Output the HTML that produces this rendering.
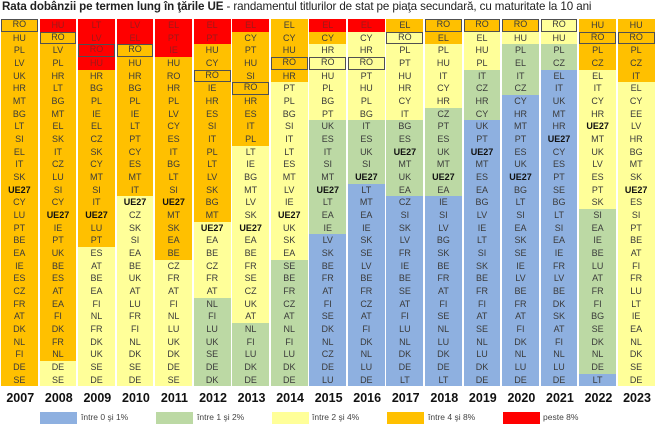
<!DOCTYPE html>
<html><head><meta charset="utf-8">
<style>
body{margin:0;width:656px;height:429px;background:#fff;position:relative;overflow:hidden;font-family:"Liberation Sans",sans-serif}
.t{position:absolute;left:2px;top:0;font-size:11.6px;color:#222;white-space:nowrap;letter-spacing:-0.1px}
.t b{font-weight:bold}
.g{position:absolute;left:1px;top:19px;display:flex}
.c{width:36.8px;margin-right:1.75px}
.c i{display:block;height:12.68px;line-height:12.68px;font-style:normal;text-align:center;font-size:9px;color:#3a3a3a;box-sizing:border-box}
.r{background:#ff0000;color:#9a1a1a!important}.o{background:#ffc000}.y{background:#ffff99}.g2{background:#bcd9a4}.b{background:#8eb0e0}
.x{border:1.5px solid #505050;line-height:9.7px!important}
.u{font-weight:bold;color:#111!important}
.yr{position:absolute;top:391px;left:1px;display:flex}
.yr span{width:38.55px;text-align:center;font-weight:bold;font-size:12.5px;color:#111}
.lg{position:absolute;top:412px;height:12px;width:37px}
.lt{position:absolute;top:412px;font-size:8.5px;color:#444}
</style></head><body>
<div class="t"><b>Rata dobânzii pe termen lung în ţările UE</b> - randamentul titlurilor de stat pe piaţa secundară, cu maturitate la 10 ani</div>
<div class="g">
<div class="c"><i class="o x">RO</i><i class="o">HU</i><i class="o">PL</i><i class="o">LV</i><i class="o">UK</i><i class="o">HR</i><i class="o">MT</i><i class="o">BG</i><i class="o">LT</i><i class="o">SI</i><i class="o">EL</i><i class="o">IT</i><i class="o">SK</i><i class="o u">UE27</i><i class="o">CY</i><i class="o">LU</i><i class="o">PT</i><i class="o">BE</i><i class="o">EA</i><i class="o">IE</i><i class="o">ES</i><i class="o">CZ</i><i class="o">FR</i><i class="o">AT</i><i class="o">DK</i><i class="o">NL</i><i class="o">FI</i><i class="o">DE</i><i class="o">SE</i></div>
<div class="c"><i class="r">HU</i><i class="o x">RO</i><i class="o">LV</i><i class="o">PL</i><i class="o">HR</i><i class="o">LT</i><i class="o">BG</i><i class="o">MT</i><i class="o">EL</i><i class="o">SK</i><i class="o">IT</i><i class="o">CZ</i><i class="o">LU</i><i class="o">SI</i><i class="o">CY</i><i class="o u">UE27</i><i class="o">IE</i><i class="o">PT</i><i class="o">UK</i><i class="o">BE</i><i class="o">ES</i><i class="o">AT</i><i class="o">EA</i><i class="o">FI</i><i class="o">DK</i><i class="o">FR</i><i class="o">NL</i><i class="y">DE</i><i class="y">SE</i></div>
<div class="c"><i class="r">LT</i><i class="r">LV</i><i class="r x">RO</i><i class="r">HU</i><i class="o">HR</i><i class="o">BG</i><i class="o">PL</i><i class="o">IE</i><i class="o">EL</i><i class="o">CZ</i><i class="o">SK</i><i class="o">CY</i><i class="o">MT</i><i class="o">SI</i><i class="o">IT</i><i class="o u">UE27</i><i class="o">LU</i><i class="o">PT</i><i class="y">ES</i><i class="y">AT</i><i class="y">BE</i><i class="y">EA</i><i class="y">FI</i><i class="y">NL</i><i class="y">FR</i><i class="y">DK</i><i class="y">UK</i><i class="y">SE</i><i class="y">DE</i></div>
<div class="c"><i class="r">LV</i><i class="r">EL</i><i class="o x">RO</i><i class="o">HU</i><i class="o">HR</i><i class="o">BG</i><i class="o">PL</i><i class="o">IE</i><i class="o">LT</i><i class="o">PT</i><i class="o">CY</i><i class="o">ES</i><i class="o">MT</i><i class="o">IT</i><i class="y u">UE27</i><i class="y">CZ</i><i class="y">SK</i><i class="y">SI</i><i class="y">EA</i><i class="y">BE</i><i class="y">UK</i><i class="y">AT</i><i class="y">LU</i><i class="y">FR</i><i class="y">FI</i><i class="y">NL</i><i class="y">DK</i><i class="y">SE</i><i class="y">DE</i></div>
<div class="c"><i class="r">EL</i><i class="r">PT</i><i class="r">IE</i><i class="o">HU</i><i class="o">RO</i><i class="o">HR</i><i class="o">PL</i><i class="o">LV</i><i class="o">CY</i><i class="o">ES</i><i class="o">IT</i><i class="o">BG</i><i class="o">LT</i><i class="o">SI</i><i class="o u">UE27</i><i class="o">MT</i><i class="o">SK</i><i class="o">EA</i><i class="o">BE</i><i class="y">CZ</i><i class="y">FR</i><i class="y">AT</i><i class="y">FI</i><i class="y">NL</i><i class="y">LU</i><i class="y">UK</i><i class="y">DK</i><i class="y">DE</i><i class="y">SE</i></div>
<div class="c"><i class="r">EL</i><i class="r">PT</i><i class="o">HU</i><i class="o">CY</i><i class="o x">RO</i><i class="o">IE</i><i class="o">HR</i><i class="o">ES</i><i class="o">SI</i><i class="o">IT</i><i class="o">PL</i><i class="o">LT</i><i class="o">LV</i><i class="o">SK</i><i class="o">BG</i><i class="o">MT</i><i class="y u">UE27</i><i class="y">EA</i><i class="y">BE</i><i class="y">CZ</i><i class="y">FR</i><i class="y">AT</i><i class="g2">NL</i><i class="g2">FI</i><i class="g2">LU</i><i class="g2">UK</i><i class="g2">SE</i><i class="g2">DE</i><i class="g2">DK</i></div>
<div class="c"><i class="r">EL</i><i class="o">CY</i><i class="o">PT</i><i class="o">HU</i><i class="o">SI</i><i class="o x">RO</i><i class="o">HR</i><i class="o">ES</i><i class="o">IT</i><i class="o">PL</i><i class="y">LT</i><i class="y">IE</i><i class="y">BG</i><i class="y">MT</i><i class="y">LV</i><i class="y">SK</i><i class="y u">UE27</i><i class="y">EA</i><i class="y">BE</i><i class="y">FR</i><i class="y">SE</i><i class="y">CZ</i><i class="y">UK</i><i class="y">AT</i><i class="g2">NL</i><i class="g2">FI</i><i class="g2">LU</i><i class="g2">DK</i><i class="g2">DE</i></div>
<div class="c"><i class="o">EL</i><i class="o">CY</i><i class="o">HU</i><i class="o x">RO</i><i class="o">HR</i><i class="y">PT</i><i class="y">PL</i><i class="y">BG</i><i class="y">SI</i><i class="y">IT</i><i class="y">LT</i><i class="y">ES</i><i class="y">MT</i><i class="y">LV</i><i class="y">IE</i><i class="y u">UE27</i><i class="y">UK</i><i class="y">SK</i><i class="y">EA</i><i class="g2">SE</i><i class="g2">BE</i><i class="g2">FR</i><i class="g2">CZ</i><i class="g2">AT</i><i class="g2">NL</i><i class="g2">FI</i><i class="g2">LU</i><i class="g2">DK</i><i class="g2">DE</i></div>
<div class="c"><i class="r">EL</i><i class="o">CY</i><i class="y">HR</i><i class="y x">RO</i><i class="y">HU</i><i class="y">PL</i><i class="y">BG</i><i class="y">PT</i><i class="g2">UK</i><i class="g2">ES</i><i class="g2">IT</i><i class="g2">SI</i><i class="g2">MT</i><i class="g2 u">UE27</i><i class="g2">LT</i><i class="g2">EA</i><i class="g2">IE</i><i class="b">LV</i><i class="b">SK</i><i class="b">BE</i><i class="b">FR</i><i class="b">AT</i><i class="b">FI</i><i class="b">SE</i><i class="b">DK</i><i class="b">NL</i><i class="b">CZ</i><i class="b">DE</i><i class="b">LU</i></div>
<div class="c"><i class="r">EL</i><i class="y">CY</i><i class="y">HR</i><i class="y x">RO</i><i class="y">PT</i><i class="y">HU</i><i class="y">PL</i><i class="y">BG</i><i class="g2">IT</i><i class="g2">ES</i><i class="g2">UK</i><i class="g2">SI</i><i class="g2 u">UE27</i><i class="b">LT</i><i class="b">MT</i><i class="b">EA</i><i class="b">IE</i><i class="b">SK</i><i class="b">SE</i><i class="b">LV</i><i class="b">BE</i><i class="b">FR</i><i class="b">CZ</i><i class="b">AT</i><i class="b">FI</i><i class="b">DK</i><i class="b">NL</i><i class="b">LU</i><i class="b">DE</i></div>
<div class="c"><i class="o">EL</i><i class="y x">RO</i><i class="y">PL</i><i class="y">PT</i><i class="y">HU</i><i class="y">HR</i><i class="y">CY</i><i class="y">IT</i><i class="g2">BG</i><i class="g2">ES</i><i class="g2 u">UE27</i><i class="g2">MT</i><i class="g2">UK</i><i class="g2">EA</i><i class="b">CZ</i><i class="b">SI</i><i class="b">SK</i><i class="b">LV</i><i class="b">FR</i><i class="b">IE</i><i class="b">BE</i><i class="b">SE</i><i class="b">AT</i><i class="b">FI</i><i class="b">LU</i><i class="b">NL</i><i class="b">DK</i><i class="b">DE</i><i class="b">LT</i></div>
<div class="c"><i class="o x">RO</i><i class="o">EL</i><i class="y">PL</i><i class="y">HU</i><i class="y">IT</i><i class="y">CY</i><i class="y">HR</i><i class="g2">CZ</i><i class="g2">PT</i><i class="g2">ES</i><i class="g2">UK</i><i class="g2">MT</i><i class="g2 u">UE27</i><i class="g2">EA</i><i class="b">IE</i><i class="b">SI</i><i class="b">LV</i><i class="b">BG</i><i class="b">SK</i><i class="b">BE</i><i class="b">FR</i><i class="b">AT</i><i class="b">FI</i><i class="b">SE</i><i class="b">NL</i><i class="b">LU</i><i class="b">DK</i><i class="b">DE</i><i class="b">LT</i></div>
<div class="c"><i class="o x">RO</i><i class="y">EL</i><i class="y">HU</i><i class="y">PL</i><i class="g2">IT</i><i class="g2">CZ</i><i class="g2">HR</i><i class="g2">CY</i><i class="b">UK</i><i class="b">PT</i><i class="b u">UE27</i><i class="b">MT</i><i class="b">ES</i><i class="b">EA</i><i class="b">BG</i><i class="b">LV</i><i class="b">IE</i><i class="b">LT</i><i class="b">SI</i><i class="b">SK</i><i class="b">BE</i><i class="b">FR</i><i class="b">FI</i><i class="b">AT</i><i class="b">SE</i><i class="b">NL</i><i class="b">LU</i><i class="b">DK</i><i class="b">DE</i></div>
<div class="c"><i class="o x">RO</i><i class="y">HU</i><i class="g2">PL</i><i class="g2">EL</i><i class="g2">IT</i><i class="g2">CZ</i><i class="b">CY</i><i class="b">HR</i><i class="b">MT</i><i class="b">PT</i><i class="b">ES</i><i class="b">UK</i><i class="b u">UE27</i><i class="b">BG</i><i class="b">LT</i><i class="b">SI</i><i class="b">EA</i><i class="b">SK</i><i class="b">SE</i><i class="b">IE</i><i class="b">LV</i><i class="b">BE</i><i class="b">FR</i><i class="b">AT</i><i class="b">FI</i><i class="b">DK</i><i class="b">NL</i><i class="b">LU</i><i class="b">DE</i></div>
<div class="c"><i class="y x">RO</i><i class="y">HU</i><i class="g2">PL</i><i class="g2">CZ</i><i class="b">EL</i><i class="b">IT</i><i class="b">UK</i><i class="b">MT</i><i class="b">HR</i><i class="b u">UE27</i><i class="b">CY</i><i class="b">ES</i><i class="b">PT</i><i class="b">SE</i><i class="b">BG</i><i class="b">LT</i><i class="b">SI</i><i class="b">EA</i><i class="b">IE</i><i class="b">FR</i><i class="b">LV</i><i class="b">BE</i><i class="b">DK</i><i class="b">SK</i><i class="b">AT</i><i class="b">FI</i><i class="b">NL</i><i class="b">LU</i><i class="b">DE</i></div>
<div class="c"><i class="o">HU</i><i class="o x">RO</i><i class="o">PL</i><i class="o">CZ</i><i class="y">EL</i><i class="y">IT</i><i class="y">CY</i><i class="y">HR</i><i class="y u">UE27</i><i class="y">MT</i><i class="y">UK</i><i class="y">LV</i><i class="y">ES</i><i class="y">PT</i><i class="y">SK</i><i class="g2">SI</i><i class="g2">EA</i><i class="g2">IE</i><i class="g2">BE</i><i class="g2">LU</i><i class="g2">AT</i><i class="g2">FR</i><i class="g2">FI</i><i class="g2">BG</i><i class="g2">SE</i><i class="g2">DK</i><i class="g2">NL</i><i class="g2">DE</i><i class="b">LT</i></div>
<div class="c"><i class="o">HU</i><i class="o x">RO</i><i class="o">PL</i><i class="o">CZ</i><i class="o">IT</i><i class="y">EL</i><i class="y">CY</i><i class="y">EE</i><i class="y">LV</i><i class="y">HR</i><i class="y">BG</i><i class="y">MT</i><i class="y">SK</i><i class="y u">UE27</i><i class="y">ES</i><i class="y">SI</i><i class="y">PT</i><i class="y">BE</i><i class="y">AT</i><i class="y">FI</i><i class="y">FR</i><i class="y">LU</i><i class="y">LT</i><i class="y">IE</i><i class="y">EA</i><i class="y">NL</i><i class="y">DK</i><i class="y">SE</i><i class="y">DE</i></div>
</div>
<div class="yr"><span>2007</span><span>2008</span><span>2009</span><span>2010</span><span>2011</span><span>2012</span><span>2013</span><span>2014</span><span>2015</span><span>2016</span><span>2017</span><span>2018</span><span>2019</span><span>2020</span><span>2021</span><span>2022</span><span>2023</span></div>
<div class="lg b" style="left:40px"></div><div class="lt" style="left:81px">între 0 şi 1%</div>
<div class="lg g2" style="left:156px"></div><div class="lt" style="left:197px">între 1 şi 2%</div>
<div class="lg y" style="left:272px"></div><div class="lt" style="left:312px">între 2 şi 4%</div>
<div class="lg o" style="left:387px"></div><div class="lt" style="left:428px">între 4 şi 8%</div>
<div class="lg r" style="left:503px"></div><div class="lt" style="left:543px">peste 8%</div>
</body></html>
